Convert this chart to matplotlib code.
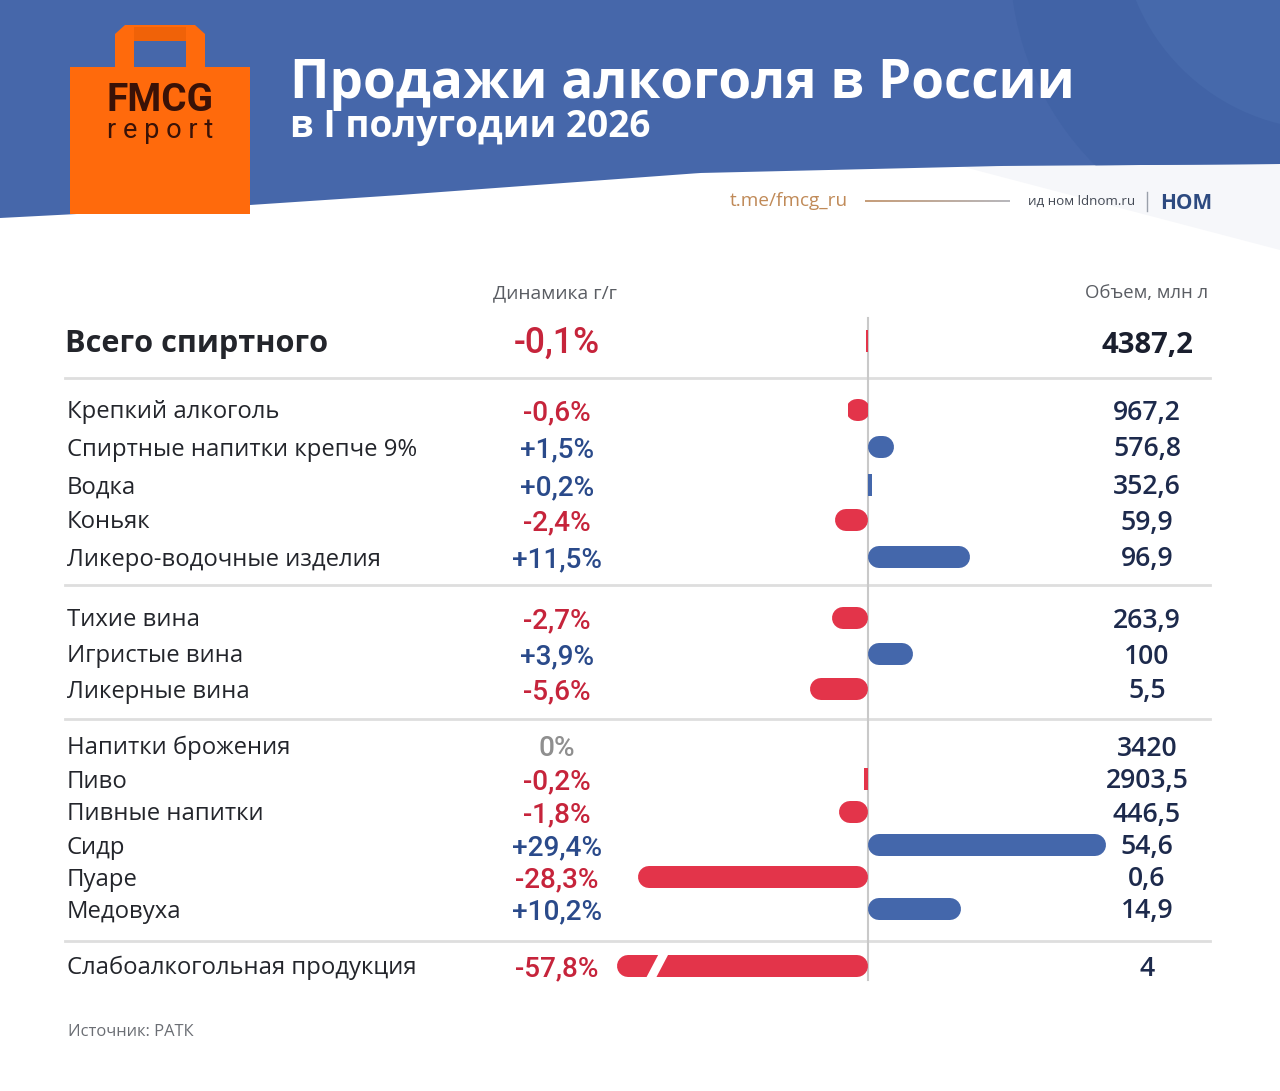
import matplotlib
matplotlib.use("Agg")
import matplotlib.pyplot as plt
import numpy as np
from matplotlib.patches import Rectangle, Polygon, Circle
from matplotlib.path import Path
from matplotlib.patches import PathPatch

# ---------------- data ----------------
title = "Продажи алкоголя в России"
subtitle = "в I полугодии 2026"
header_dyn = "Динамика г/г"
header_vol = "Объем, млн л"
source = "Источник: РАТК"
total_label = "Всего спиртного"
total_change = -0.1
total_volume = 4387.2

categories = ["Крепкий алкоголь", "Спиртные напитки крепче 9%", "Водка", "Коньяк",
              "Ликеро-водочные изделия",
              "Тихие вина", "Игристые вина", "Ликерные вина",
              "Напитки брожения", "Пиво", "Пивные напитки", "Сидр", "Пуаре", "Медовуха",
              "Слабоалкогольная продукция"]
changes = [-0.6, 1.5, 0.2, -2.4, 11.5,
           -2.7, 3.9, -5.6,
           0.0, -0.2, -1.8, 29.4, -28.3, 10.2,
           -57.8]
volumes = [967.2, 576.8, 352.6, 59.9, 96.9,
           263.9, 100, 5.5,
           3420, 2903.5, 446.5, 54.6, 0.6, 14.9,
           4]

# ---------------- layout / style ----------------
W, H, DPI = 1280, 1091, 100
BLUE_BG = "#4667aa"
ORANGE = "#ff6a0c"
RED = "#e3344a"
BLUE = "#4467ab"
RED_TXT = "#c6243b"
BLUE_TXT = "#2a4a8a"
NAVY = "#1d2a4c"
DARK = "#23252b"
GRID = "#dedede"

row_y = [410, 447, 485, 520, 557, 618, 654, 689, 746, 779, 812, 845, 877, 909, 966]
total_y = 341
sep_y = [378, 585, 719, 941]
zero_px = 868
px_per_pct = 7.6
bar_h = 22
bar_clip = 31.0  # broken-bar limit in %

FONT = ["Open Sans", "DejaVu Sans"]
PCTF = ["Roboto", "DejaVu Sans"]

fig = plt.figure(figsize=(W / DPI, H / DPI), dpi=DPI)
ax = fig.add_axes([0, 0, 1, 1])
ax.set_xlim(0, W)
ax.set_ylim(H, 0)
ax.axis("off")
fig.canvas.draw()
renderer = fig.canvas.get_renderer()


def put(x, y, s, target_w=None, size=12, **kw):
    t = ax.text(x, y, s, fontsize=size, **kw)
    if target_w:
        bb = t.get_window_extent(renderer)
        t.set_fontsize(size * target_w / bb.width)
    return t


# ---------------- header ----------------
xs = np.linspace(0, W, 200)
curve = np.interp(xs, [0, 250, 400, 700, 1000, 1280], [218, 205, 195, 173, 166, 164])
band_pts = np.vstack([np.column_stack([xs, curve]), [[W, 0], [0, 0]]])
band = Polygon(band_pts, closed=True, color=BLUE_BG, lw=0, zorder=1)
ax.add_patch(band)
circ = Circle((1300, -40), 290, color="#4163a6", zorder=1.1, lw=0)
ax.add_patch(circ)
circ.set_clip_path(band)
circ2 = Circle((1330, -80), 210, color="#4669ab", zorder=1.2, lw=0)
ax.add_patch(circ2)
circ2.set_clip_path(band)
ax.add_patch(Polygon([[960, 166], [1280, 164], [1280, 250]], closed=True,
                     color="#f6f7fa", lw=0, zorder=0.9))

# shopping bag logo
ax.add_patch(Rectangle((70, 67), 180, 147, color=ORANGE, lw=0, zorder=3))
handle = Path([(115, 67), (115, 34), (125, 25), (195, 25), (205, 34), (205, 67),
               (186, 67), (186, 41), (134, 41), (134, 67), (115, 67)])
ax.add_patch(PathPatch(handle, color=ORANGE, lw=0, zorder=3))
ax.add_patch(Rectangle((134, 27), 52, 14, color="#f06208", lw=0, zorder=3.1))
put(160, 111, "FMCG", target_w=107, size=20, family=["Roboto", "DejaVu Sans"],
    weight="bold", color="#3a1207", ha="center", va="baseline", zorder=4)
put(160, 138, "r e p o r t", target_w=106, size=18, family=["Roboto", "DejaVu Sans"],
    color="#3a1207", ha="center", va="baseline", zorder=4)

put(290, 98, title, target_w=785, size=40, family=FONT, weight="bold",
    color="white", ha="left", va="baseline", zorder=4)
put(290, 137, subtitle, target_w=362, size=26, family=FONT, weight="bold",
    color="white", ha="left", va="baseline", zorder=4)

put(730, 206, "t.me/fmcg_ru", target_w=118, size=12, family=FONT,
    color="#c08a58", ha="left", va="baseline", zorder=4)
grad = np.linspace(0, 1, 256)
cols = np.zeros((1, 256, 3))
cols[0, :, 0] = 0.78 * (1 - grad) + 0.72 * grad
cols[0, :, 1] = 0.62 * (1 - grad) + 0.72 * grad
cols[0, :, 2] = 0.48 * (1 - grad) + 0.74 * grad
ax.imshow(cols, extent=(865, 1010, 202, 200), aspect="auto", zorder=4,
          interpolation="bilinear")
ax.set_xlim(0, W)
ax.set_ylim(H, 0)
put(1028, 205, "ид ном ldnom.ru", target_w=108, size=9, family=FONT,
    color="#444a55", ha="left", va="baseline", zorder=4)
ax.plot([1147, 1147], [192, 211], color="#9aa0aa", lw=1, zorder=4)
put(1160, 209, "НОМ", target_w=52, size=14, family=FONT, weight="bold",
    color="#2d4a80", ha="left", va="baseline", zorder=4)

# ---------------- table headers ----------------
put(555, 298, header_dyn, target_w=124, size=12, family=FONT,
    color="#5a5d63", ha="center", va="baseline")
put(1208, 298, header_vol, target_w=123, size=12, family=FONT,
    color="#5a5d63", ha="right", va="baseline")

for y in sep_y:
    ax.plot([65, 1210], [y, y], color=GRID, lw=2, zorder=2)
ax.plot([zero_px, zero_px], [318, 980], color="#c9c9c9", lw=1.5, zorder=2)


def fmt_pct(v):
    if v == 0:
        return "0%"
    s = f"{abs(v):.1f}".replace(".", ",")
    return ("+" if v > 0 else "-") + s + "%"


def fmt_vol(v):
    if float(v).is_integer():
        return f"{int(v)}"
    return f"{v:.1f}".replace(".", ",")


def pct_color(v):
    return "#8f8f8f" if v == 0 else (BLUE_TXT if v > 0 else RED_TXT)


put(65, total_y + 11, total_label, target_w=263, size=22, family=FONT, weight="bold",
    color=DARK, ha="left", va="baseline")
put(557, total_y + 12, fmt_pct(total_change), target_w=86, size=22, family=PCTF,
    weight="medium", color=pct_color(total_change), ha="center", va="baseline")
put(1147, total_y + 12, fmt_vol(total_volume), target_w=92, size=22, family=FONT,
    weight="bold", color="#1a1f2e", ha="center", va="baseline")

probe = put(0, -100, "Спиртные напитки крепче 9%", target_w=351, size=17, family=FONT)
label_size = probe.get_fontsize()
probe.remove()
probe = put(0, -100, "+11,5%", target_w=90, size=18, family=PCTF, weight="medium")
pct_size = probe.get_fontsize()
probe.remove()
probe = put(0, -100, "576,8", target_w=68, size=18, family=FONT, weight="semibold")
vol_size = probe.get_fontsize()
probe.remove()

for lab, v, vol, y in zip(categories, changes, volumes, row_y):
    ax.text(67, y + 8.5, lab, fontsize=label_size, family=FONT, color=DARK,
            ha="left", va="baseline")
    ax.text(557, y + 10, fmt_pct(v), fontsize=pct_size, family=PCTF, weight="medium",
            color=pct_color(v), ha="center", va="baseline")
    ax.text(1147, y + 9.5, fmt_vol(vol), fontsize=vol_size, family=FONT,
            weight="semibold", color=NAVY, ha="center", va="baseline")

put(68, 1036, source, target_w=125, size=10, family=FONT, color="#6b6e74",
    ha="left", va="baseline")

# ---------------- bars (own axes, x in %) ----------------
xl, xr = -36.0, 34.0
left_px = zero_px + xl * px_per_pct
bax = fig.add_axes([left_px / W, 0, (xr - xl) * px_per_pct / W, 1])
bax.set_xlim(xl, xr)
bax.set_ylim(H, 0)
bax.axis("off")
bax.patch.set_alpha(0)

lw_pt = bar_h * 72 / DPI
r_pct = (bar_h / 2) / px_per_pct
extra_pct = 15 / px_per_pct


def draw_bar(v, y):
    if v == 0:
        return
    sgn = 1 if v > 0 else -1
    mag = min(abs(v), bar_clip)
    if abs(v) < 0.5:
        length = abs(v) * 2.5
    else:
        length = mag + extra_pct
    col = BLUE if v > 0 else RED
    a = max(length - r_pct, r_pct)
    b = r_pct if length >= 2 * r_pct else length - r_pct
    line, = bax.plot([sgn * b, sgn * a], [y, y], color=col, lw=lw_pt,
                     solid_capstyle="round", zorder=3)
    clip = Rectangle((min(0, sgn * length), y - bar_h), length, 2 * bar_h,
                     transform=bax.transData, visible=False)
    bax.add_patch(clip)
    line.set_clip_path(clip)
    if abs(v) > bar_clip:
        xb = sgn * (length - 4.6)
        dx = 0.9
        gap = 1.3
        bax.add_patch(Polygon([[xb + dx, y - bar_h / 2 - 2], [xb + dx + gap, y - bar_h / 2 - 2],
                               [xb - dx + gap, y + bar_h / 2 + 2], [xb - dx, y + bar_h / 2 + 2]],
                              closed=True, color="white", lw=0, zorder=4))


draw_bar(total_change, total_y)
for v, y in zip(changes, row_y):
    draw_bar(v, y)

fig.savefig("out.png", dpi=DPI)
